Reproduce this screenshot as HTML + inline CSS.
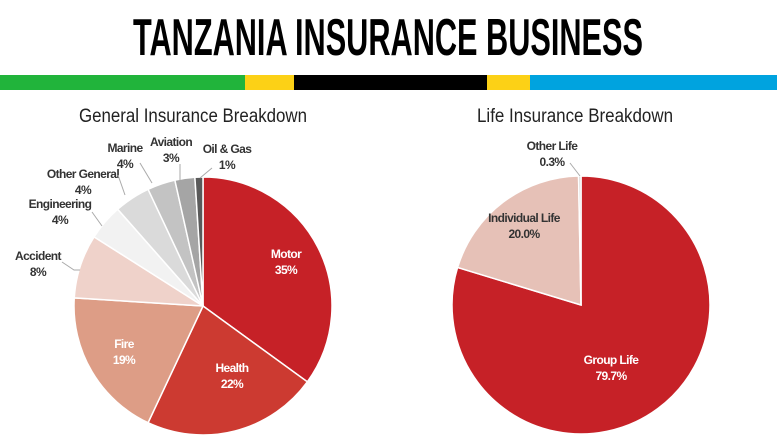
<!DOCTYPE html><html><head><meta charset="utf-8"><style>body{margin:0;background:#fff}svg{display:block}text{font-family:"Liberation Sans",sans-serif}</style></head><body>
<svg id="s" width="777" height="437" xmlns="http://www.w3.org/2000/svg">
<text x="388" y="55" text-anchor="middle" font-size="52" font-weight="bold" textLength="510" lengthAdjust="spacingAndGlyphs" fill="#000">TANZANIA INSURANCE BUSINESS</text>
<rect x="0" y="75" width="245" height="15" fill="#21b43b"/><rect x="245" y="75" width="49" height="15" fill="#fcd116"/><rect x="294" y="75" width="193" height="15" fill="#000"/><rect x="487" y="75" width="43" height="15" fill="#fcd116"/><rect x="530" y="75" width="247" height="15" fill="#00a3df"/>
<text x="193" y="122" text-anchor="middle" font-size="19" textLength="228" lengthAdjust="spacingAndGlyphs" fill="#222">General Insurance Breakdown</text>
<text x="575" y="122" text-anchor="middle" font-size="19" textLength="196" lengthAdjust="spacingAndGlyphs" fill="#222">Life Insurance Breakdown</text>
<g id="p1"></g><g id="p2"></g>
<g font-size="12" font-weight="bold" text-anchor="middle" fill="#333" letter-spacing="-0.6">
<text x="286" y="258" fill="#fff">Motor</text><text x="286" y="274" fill="#fff">35%</text>
<text x="232" y="372" fill="#fff">Health</text><text x="232" y="388" fill="#fff">22%</text>
<text x="124" y="348" fill="#fff">Fire</text><text x="124" y="364" fill="#fff">19%</text>
<text x="38" y="260">Accident</text><text x="38" y="276">8%</text>
<text x="60" y="208">Engineering</text><text x="60" y="224">4%</text>
<text x="83" y="178">Other General</text><text x="83" y="194">4%</text>
<text x="125" y="152">Marine</text><text x="125" y="168">4%</text>
<text x="171" y="146">Aviation</text><text x="171" y="162">3%</text>
<text x="227" y="153">Oil &amp; Gas</text><text x="227" y="169">1%</text>
<text x="611" y="364" fill="#fff">Group Life</text><text x="611" y="380" fill="#fff">79.7%</text>
<text x="524" y="222">Individual Life</text><text x="524" y="238">20.0%</text>
<text x="552" y="150">Other Life</text><text x="552" y="166">0.3%</text>
</g>
<g stroke="#aaa" fill="none" stroke-width="1">
<polyline points="62,262 74,270 80,270"/><polyline points="92,212 102,226"/><polyline points="118,175 125,195"/><polyline points="140,163 152,183"/><polyline points="180,164 180,180"/><polyline points="212,168 200,178"/><polyline points="570,163 580,176"/>
</g>
</svg>
<script>
function pie(id,cx,cy,r,d){var g=document.getElementById(id),a=0,h='';d.forEach(function(e){var a0=a,a1=a+e[0]/100*2*Math.PI;a=a1;var x0=cx+r*Math.sin(a0),y0=cy-r*Math.cos(a0),x1=cx+r*Math.sin(a1),y1=cy-r*Math.cos(a1);h+='<path d="M'+cx+','+cy+'L'+x0+','+y0+'A'+r+','+r+' 0 '+(a1-a0>Math.PI?1:0)+' 1 '+x1+','+y1+'Z" fill="'+e[1]+'" stroke="#fff" stroke-width="1.5"/>';});g.innerHTML=h;}
pie('p1',203,306,129,[[35,'#c62127'],[22,'#cc3a31'],[19,'#dd9d86'],[8,'#efd2ca'],[4.5,'#f2f2f2'],[4.5,'#dadada'],[3.5,'#c3c3c3'],[2.5,'#a5a5a5'],[1,'#5a5a5a']]);
pie('p2',581,305,129,[[79.7,'#c62127'],[20,'#e6c1b7'],[0.3,'#d0d0d0']]);
</script>
</body></html>
